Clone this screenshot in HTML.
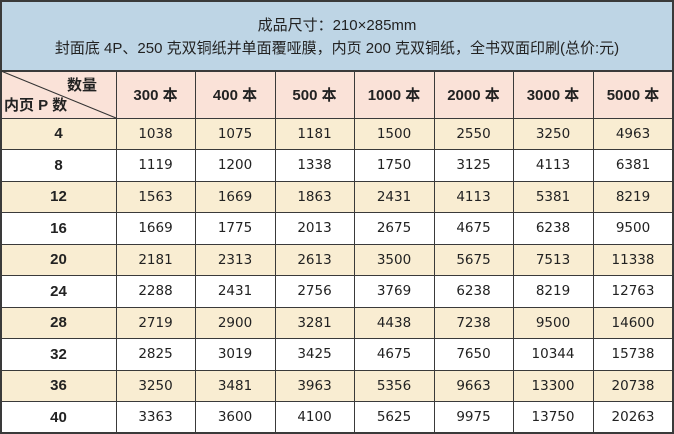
<!DOCTYPE html><html><head><meta charset="utf-8"><style>
body{margin:0;width:674px;height:434px;background:#fff;font-family:"Liberation Sans","Noto Sans CJK SC",sans-serif;position:relative;overflow:hidden}
.c{position:absolute;display:flex;align-items:center;justify-content:center;color:#222;font-size:14px;box-sizing:border-box}
.n{font-family:"DejaVu Sans",sans-serif;font-size:13.5px}
.h{font-size:15px;font-weight:bold}
.l{position:absolute;background:#3a3a3a}
</style></head><body>
<div class="c" style="left:1px;top:1px;width:672px;height:70px;background:#bed5e5;flex-direction:column;font-size:15px;line-height:23px;padding-top:2px">
<div>成品尺寸：210×285mm</div><div>封面底 4P、250 克双铜纸并单面覆哑膜，内页 200 克双铜纸，全书双面印刷(总价:元)</div></div>
<div id="t"></div>
<svg style="position:absolute;left:0;top:0" width="674" height="434">
<line x1="1" y1="71" x2="116" y2="118" stroke="#333" stroke-width="1"/>
</svg>
<script>
var xs=[1,116,195,275,354,434,513,593,673];
var hd=["300 本","400 本","500 本","1000 本","2000 本","3000 本","5000 本"];
var rows=[[4,1038,1075,1181,1500,2550,3250,4963],[8,1119,1200,1338,1750,3125,4113,6381],[12,1563,1669,1863,2431,4113,5381,8219],[16,1669,1775,2013,2675,4675,6238,9500],[20,2181,2313,2613,3500,5675,7513,11338],[24,2288,2431,2756,3769,6238,8219,12763],[28,2719,2900,3281,4438,7238,9500,14600],[32,2825,3019,3425,4675,7650,10344,15738],[36,3250,3481,3963,5356,9663,13300,20738],[40,3363,3600,4100,5625,9975,13750,20263]];
var h="";
h+='<div class="c" style="left:1px;top:71px;width:672px;height:47px;background:#fae2d8"></div>';
h+='<div class="c h" style="left:60px;top:74px;width:44px;height:20px">数量</div>';
h+='<div class="c h" style="left:4px;top:94px;width:66px;height:20px;justify-content:flex-start">内页 P 数</div>';
for(var i=0;i<7;i++)h+='<div class="c h" style="left:'+xs[i+1]+'px;top:71px;width:'+(xs[i+2]-xs[i+1])+'px;height:47px">'+hd[i]+'</div>';
var ry=[];for(var r=0;r<=10;r++)ry.push(118+r*31.5);
for(var r=0;r<10;r++){
 var y=ry[r];var bg=r%2==0?'#f9edd2':'#fff';
 h+='<div class="c" style="left:1px;top:'+y+'px;width:672px;height:31.5px;background:'+bg+'"></div>';
 for(var j=0;j<8;j++)h+='<div class="c'+(j==0?' h':' n')+'" style="left:'+xs[j]+'px;top:'+y+'px;width:'+(xs[j+1]-xs[j])+'px;height:31.5px">'+rows[r][j]+'</div>';
}
h+='<div class="l" style="left:0;top:0;width:674px;height:1.5px"></div>';
h+='<div class="l" style="left:0;top:70px;width:674px;height:1.5px"></div>';
for(var r=0;r<=10;r++)h+='<div class="l" style="left:0;top:'+(ry[r]-0.5)+'px;width:674px;height:1px"></div>';
h+='<div class="l" style="left:0;top:432px;width:674px;height:2px"></div>';
h+='<div class="l" style="left:0;top:0;width:1.5px;height:434px"></div>';
h+='<div class="l" style="left:672px;top:0;width:2px;height:434px"></div>';
for(var j=1;j<8;j++)h+='<div class="l" style="left:'+(xs[j]-0.5)+'px;top:71px;width:1.2px;height:363px"></div>';
document.getElementById("t").innerHTML=h;
</script>
</body></html>
